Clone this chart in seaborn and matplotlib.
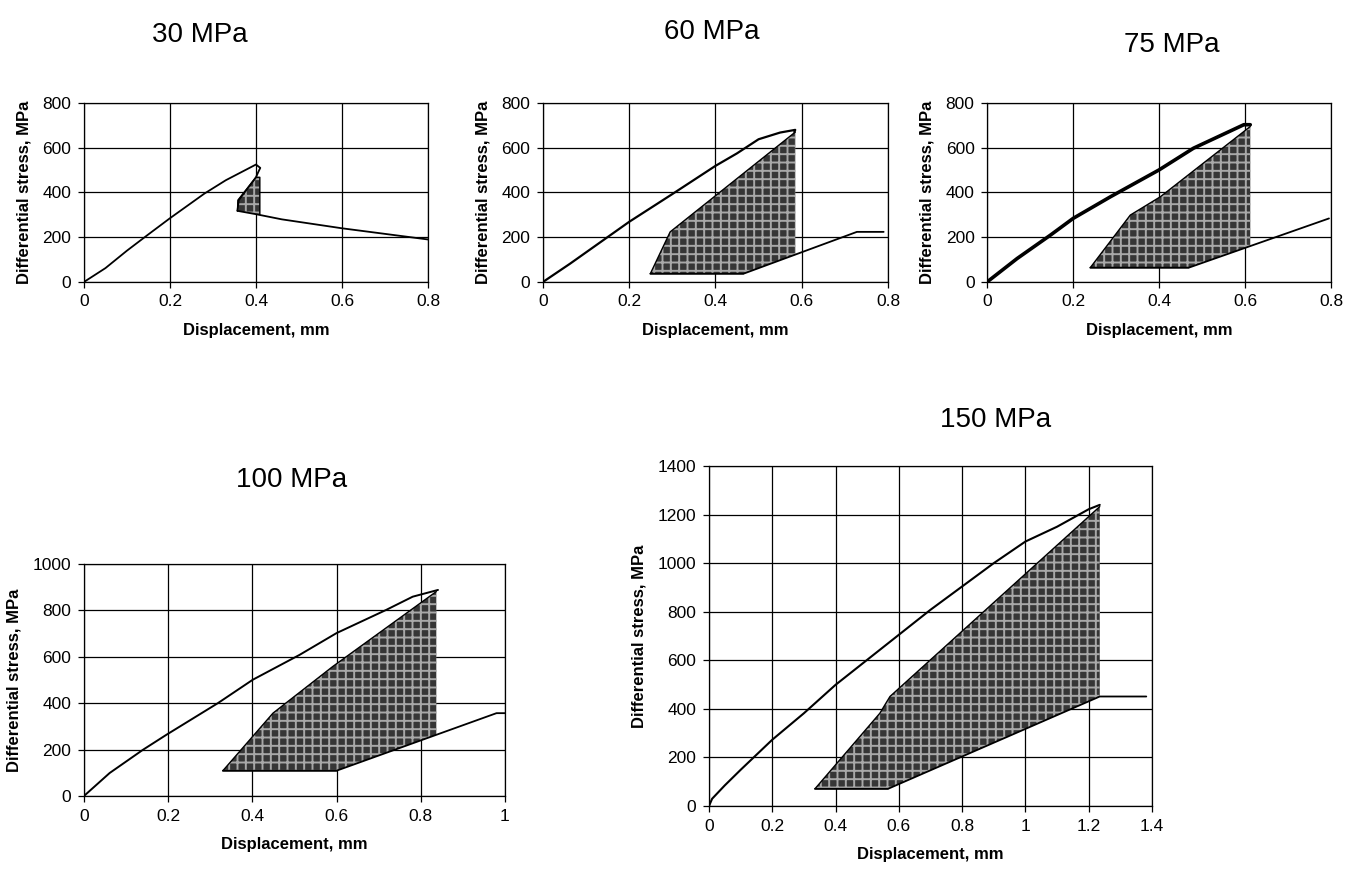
"""
Stress-displacement curves at five confining pressures, with hatched energy areas.
"""

import matplotlib
matplotlib.use("Agg")
import matplotlib.pyplot as plt
import seaborn as sns

# ---- data -----------------------------------------------------------------
titles = ["30 MPa", "60 MPa", "75 MPa", "100 MPa", "150 MPa"]

# 30 MPa
p30_load_x = [0, 0.05, 0.1, 0.15, 0.2, 0.28, 0.33, 0.37, 0.40, 0.41, 0.405, 0.40, 0.36, 0.357]
p30_load_y = [0, 62, 140, 213, 285, 395, 455, 495, 525, 510, 490, 468, 366, 318]
p30_unl_x = [0.357, 0.40, 0.46, 0.6, 0.8]
p30_unl_y = [318, 303, 280, 240, 190]
p30_area_x = [0.357, 0.358, 0.40, 0.409, 0.409, 0.40]
p30_area_y = [318, 366, 468, 468, 302, 303]

# 60 MPa
p60_load_x = [0, 0.063, 0.2, 0.3, 0.4, 0.45, 0.5, 0.55, 0.585, 0.583]
p60_load_y = [0, 82, 269, 393, 519, 575, 638, 668, 680, 670]
p60_unl_x = [0.249, 0.465, 0.728, 0.79]
p60_unl_y = [37, 37, 224, 224]
p60_area_x = [0.465, 0.249, 0.295, 0.585, 0.585]
p60_area_y = [37, 37, 224, 670, 122]

# 75 MPa
p75_load_x = [0, 0.07, 0.147, 0.2, 0.287, 0.4, 0.48, 0.597, 0.612]
p75_load_y = [0, 105, 209, 284, 381, 501, 598, 703, 703]
p75_unl_x = [0.24, 0.469, 0.795]
p75_unl_y = [64, 64, 284]
p75_area_x = [0.469, 0.24, 0.333, 0.403, 0.612, 0.612]
p75_area_y = [64, 64, 299, 381, 695, 160]

# 100 MPa
p100_load_x = [0, 0.061, 0.14, 0.196, 0.318, 0.401, 0.512, 0.6, 0.718, 0.781, 0.841]
p100_load_y = [0, 99, 199, 264, 400, 501, 608, 702, 802, 859, 888]
p100_unl_x = [0.33, 0.6, 0.98, 1.0]
p100_unl_y = [109, 109, 357, 357]
p100_area_x = [0.6, 0.33, 0.449, 0.591, 0.837, 0.837]
p100_area_y = [109, 109, 357, 558, 881, 264]

# 150 MPa
p150_load_x = [0, 0.01, 0.05, 0.1, 0.2, 0.3, 0.4, 0.5, 0.6, 0.7, 0.8,
               0.9, 1.0, 1.1, 1.2, 1.235]
p150_load_y = [0, 30, 85, 149, 273, 382, 499, 602, 705, 808, 904,
               1000, 1089, 1150, 1222, 1240]
p150_unl_x = [0.335, 0.566, 1.235, 1.382]
p150_unl_y = [71, 71, 451, 451]
p150_area_x = [0.566, 0.335, 0.54, 0.572, 1.235, 1.235]
p150_area_y = [71, 71, 382, 451, 1233, 451]

xticks_08 = [0, 0.2, 0.4, 0.6, 0.8]
xlabels_08 = ["0", "0.2", "0.4", "0.6", "0.8"]
xticks_10 = [0, 0.2, 0.4, 0.6, 0.8, 1.0]
xlabels_10 = ["0", "0.2", "0.4", "0.6", "0.8", "1"]
xticks_14 = [0, 0.2, 0.4, 0.6, 0.8, 1.0, 1.2, 1.4]
xlabels_14 = ["0", "0.2", "0.4", "0.6", "0.8", "1", "1.2", "1.4"]

# ---- style -----------------------------------------------------------------
sns.set_style("white")
plt.rcParams["font.family"] = ["Liberation Sans", "DejaVu Sans"]
plt.rcParams["hatch.linewidth"] = 1.4

fig = plt.figure(figsize=(13.54, 8.73), dpi=100)

panels = [
    # rect, title pos, data, xticks, xlabels, ymax, loading lw
    ([0.0620, 0.6770, 0.2541, 0.2050], (0.1477, 0.960),
     (p30_load_x, p30_load_y, p30_unl_x, p30_unl_y, p30_area_x, p30_area_y),
     xticks_08, xlabels_08, 800, 1.3),
    ([0.4010, 0.6770, 0.2548, 0.2050], (0.526, 0.963),
     (p60_load_x, p60_load_y, p60_unl_x, p60_unl_y, p60_area_x, p60_area_y),
     xticks_08, xlabels_08, 800, 1.6),
    ([0.7290, 0.6770, 0.2541, 0.2050], (0.8656, 0.948),
     (p75_load_x, p75_load_y, p75_unl_x, p75_unl_y, p75_area_x, p75_area_y),
     xticks_08, xlabels_08, 800, 2.6),
    ([0.0620, 0.0882, 0.3109, 0.2658], (0.2157, 0.450),
     (p100_load_x, p100_load_y, p100_unl_x, p100_unl_y, p100_area_x, p100_area_y),
     xticks_10, xlabels_10, 1000, 1.4),
    ([0.5236, 0.0767, 0.3272, 0.3895], (0.735, 0.519),
     (p150_load_x, p150_load_y, p150_unl_x, p150_unl_y, p150_area_x, p150_area_y),
     xticks_14, xlabels_14, 1400, 1.5),
]

for (rect, tpos, data, xt, xl, ymax, lw), title in zip(panels, titles):
    lx, ly, ux, uy, ax_, ay_ = data
    ax = fig.add_axes(rect)

    # hatched area, outlined on its loading-side edges
    ax.fill(ax_, ay_, facecolor="#363636", edgecolor="#a8a8a8",
            hatch="++", linewidth=0, zorder=2)
    ax.plot(ax_[:-1], ay_[:-1], color="black", linewidth=1.0, zorder=3)

    sns.lineplot(x=lx, y=ly, sort=False, estimator=None, color="black",
                 linewidth=lw, ax=ax, zorder=3)
    sns.lineplot(x=ux, y=uy, sort=False, estimator=None, color="black",
                 linewidth=1.3, ax=ax, zorder=3)

    ax.set_xlim(xt[0], xt[-1])
    ax.set_ylim(0, ymax)
    ax.set_xticks(xt)
    ax.set_xticklabels(xl)
    ax.set_yticks(range(0, ymax + 1, 200))
    ax.grid(True, color="black", linewidth=0.9)
    ax.set_axisbelow(True)
    for s in ax.spines.values():
        s.set_visible(True)
        s.set_color("black")
        s.set_linewidth(0.9)
    ax.tick_params(axis="both", direction="out", length=4, width=0.9,
                   colors="black", labelsize=12.5, pad=5, bottom=True, left=True)
    ax.set_xlabel("Displacement, mm", fontsize=12, fontweight="bold",
                  labelpad=10, color="black")
    ax.set_ylabel("Differential stress, MPa", fontsize=12, fontweight="bold",
                  labelpad=8, color="black")

    fig.text(tpos[0], tpos[1], title, ha="center", va="center", fontsize=20,
             color="black")

fig.savefig("out.png", dpi=100)
plt.close(fig)
